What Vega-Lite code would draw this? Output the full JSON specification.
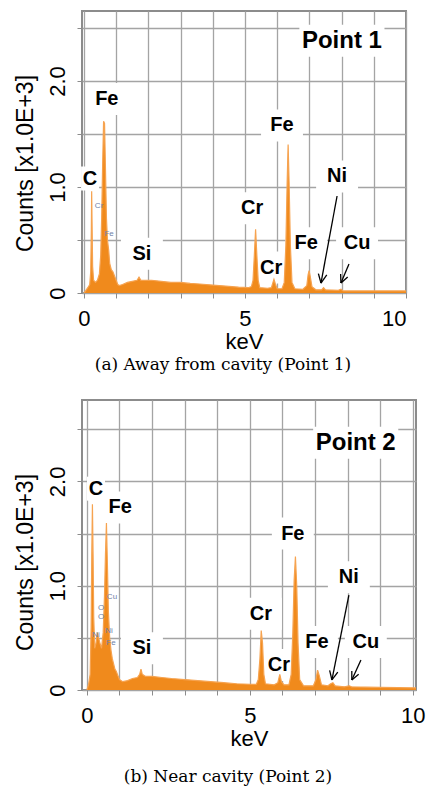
{
  "$schema": "https://vega.github.io/schema/vega-lite/v6.json",
  "background": "white",
  "padding": {"left": 13, "top": 10, "right": 2, "bottom": 2},
  "spacing": 25,
  "config": {
    "view": {"stroke": "#8c8c8c", "strokeWidth": 2},
    "font": "Liberation Sans",
    "axis": {
      "labelFont": "Liberation Sans", "titleFont": "Liberation Sans",
      "labelFontSize": 22, "titleFontSize": 22, "titleFontWeight": "normal",
      "labelColor": "black", "titleColor": "black",
      "gridColor": "#a4a4a4", "gridWidth": 1.3,
      "tickColor": "#8c8c8c", "tickSize": 5, "domain": false
    },
    "axisX": {"labelPadding": 10, "titlePadding": 2},
    "axisY": {"labelAngle": -90, "labelAlign": "center", "labelBaseline": "bottom", "labelPadding": 8, "titlePadding": 9, "titleFontSize": 23},
    "title": {"font": "DejaVu Serif", "fontSize": 17, "fontWeight": "normal", "color": "black", "orient": "bottom", "anchor": "middle", "frame": "group", "dx": -21}
  },
  "datasets": {
    "spec1": [
      {"k":0,"c":0},{"k":0.05,"c":0.02},{"k":0.12,"c":0.05},{"k":0.18,"c":0.08},{"k":0.21,"c":0.2},{"k":0.23,"c":0.6},{"k":0.24,"c":0.96},{"k":0.255,"c":0.6},{"k":0.27,"c":0.25},{"k":0.3,"c":0.12},{"k":0.36,"c":0.1},{"k":0.42,"c":0.12},{"k":0.48,"c":0.18},{"k":0.52,"c":0.35},{"k":0.55,"c":0.7},{"k":0.58,"c":1.2},{"k":0.61,"c":1.62},{"k":0.64,"c":1.6},{"k":0.67,"c":1.15},{"k":0.7,"c":0.7},{"k":0.73,"c":0.5},{"k":0.77,"c":0.4},{"k":0.8,"c":0.28},{"k":0.85,"c":0.22},{"k":0.9,"c":0.2},{"k":0.95,"c":0.16},{"k":1.0,"c":0.12},{"k":1.05,"c":0.08},{"k":1.1,"c":0.07},{"k":1.2,"c":0.08},{"k":1.35,"c":0.1},{"k":1.5,"c":0.11},{"k":1.65,"c":0.12},{"k":1.71,"c":0.15},{"k":1.77,"c":0.12},{"k":1.9,"c":0.12},{"k":2.1,"c":0.12},{"k":2.4,"c":0.11},{"k":2.7,"c":0.1},{"k":3.0,"c":0.1},{"k":3.3,"c":0.09},{"k":3.6,"c":0.085},{"k":4.0,"c":0.075},{"k":4.4,"c":0.065},{"k":4.8,"c":0.055},{"k":5.1,"c":0.05},{"k":5.2,"c":0.06},{"k":5.25,"c":0.12},{"k":5.29,"c":0.35},{"k":5.33,"c":0.6},{"k":5.37,"c":0.35},{"k":5.41,"c":0.12},{"k":5.46,"c":0.05},{"k":5.7,"c":0.045},{"k":5.82,"c":0.05},{"k":5.87,"c":0.1},{"k":5.9,"c":0.13},{"k":5.94,"c":0.09},{"k":6.0,"c":0.04},{"k":6.15,"c":0.04},{"k":6.22,"c":0.1},{"k":6.27,"c":0.45},{"k":6.31,"c":1.05},{"k":6.34,"c":1.4},{"k":6.37,"c":1.05},{"k":6.41,"c":0.45},{"k":6.46,"c":0.1},{"k":6.55,"c":0.04},{"k":6.8,"c":0.035},{"k":6.92,"c":0.07},{"k":6.96,"c":0.17},{"k":6.99,"c":0.21},{"k":7.03,"c":0.15},{"k":7.08,"c":0.06},{"k":7.2,"c":0.03},{"k":7.38,"c":0.03},{"k":7.44,"c":0.05},{"k":7.5,"c":0.03},{"k":7.9,"c":0.025},{"k":7.98,"c":0.035},{"k":8.05,"c":0.02},{"k":9.0,"c":0.02},{"k":10,"c":0.02}
    ],
    "spec2": [
      {"k":0,"c":0},{"k":0.05,"c":0.05},{"k":0.1,"c":0.15},{"k":0.13,"c":0.6},{"k":0.15,"c":1.3},{"k":0.17,"c":1.78},{"k":0.19,"c":1.3},{"k":0.21,"c":0.7},{"k":0.24,"c":0.4},{"k":0.28,"c":0.45},{"k":0.32,"c":0.55},{"k":0.36,"c":0.5},{"k":0.4,"c":0.45},{"k":0.45,"c":0.4},{"k":0.5,"c":0.55},{"k":0.54,"c":0.9},{"k":0.57,"c":1.3},{"k":0.6,"c":1.6},{"k":0.63,"c":1.2},{"k":0.66,"c":0.75},{"k":0.7,"c":0.5},{"k":0.74,"c":0.38},{"k":0.78,"c":0.3},{"k":0.82,"c":0.25},{"k":0.86,"c":0.2},{"k":0.9,"c":0.18},{"k":0.95,"c":0.14},{"k":1.0,"c":0.1},{"k":1.1,"c":0.08},{"k":1.25,"c":0.09},{"k":1.4,"c":0.11},{"k":1.55,"c":0.12},{"k":1.62,"c":0.15},{"k":1.66,"c":0.2},{"k":1.7,"c":0.15},{"k":1.8,"c":0.13},{"k":2.0,"c":0.13},{"k":2.3,"c":0.12},{"k":2.6,"c":0.11},{"k":3.0,"c":0.1},{"k":3.4,"c":0.09},{"k":3.8,"c":0.08},{"k":4.2,"c":0.07},{"k":4.6,"c":0.06},{"k":5.0,"c":0.055},{"k":5.2,"c":0.055},{"k":5.26,"c":0.1},{"k":5.31,"c":0.3},{"k":5.35,"c":0.57},{"k":5.39,"c":0.45},{"k":5.43,"c":0.15},{"k":5.48,"c":0.06},{"k":5.75,"c":0.05},{"k":5.86,"c":0.07},{"k":5.92,"c":0.15},{"k":5.97,"c":0.08},{"k":6.05,"c":0.05},{"k":6.2,"c":0.05},{"k":6.27,"c":0.15},{"k":6.32,"c":0.55},{"k":6.36,"c":1.05},{"k":6.4,"c":1.28},{"k":6.44,"c":1.0},{"k":6.48,"c":0.45},{"k":6.53,"c":0.1},{"k":6.65,"c":0.04},{"k":6.95,"c":0.04},{"k":7.03,"c":0.1},{"k":7.08,"c":0.19},{"k":7.13,"c":0.14},{"k":7.2,"c":0.05},{"k":7.4,"c":0.04},{"k":7.48,"c":0.06},{"k":7.55,"c":0.07},{"k":7.62,"c":0.04},{"k":7.9,"c":0.03},{"k":8.05,"c":0.04},{"k":8.12,"c":0.03},{"k":9.0,"c":0.025},{"k":10.1,"c":0.02}
    ],
    "lab1": [
      {"label":"Point 1","k":8.01,"c":2.38},
      {"label":"Fe","k":0.71,"c":1.83},
      {"label":"C","k":0.19,"c":1.08},
      {"label":"Si","k":1.8,"c":0.37},
      {"label":"Cr","k":5.22,"c":0.8},
      {"label":"Cr","k":5.81,"c":0.24},
      {"label":"Fe","k":6.15,"c":1.58},
      {"label":"Fe","k":6.9,"c":0.47},
      {"label":"Ni","k":7.86,"c":1.1},
      {"label":"Cu","k":8.48,"c":0.47}
    ],
    "lab2": [
      {"label":"Point 2","k":8.25,"c":2.37},
      {"label":"C","k":0.28,"c":1.93},
      {"label":"Fe","k":1.02,"c":1.75},
      {"label":"Si","k":1.69,"c":0.4},
      {"label":"Cr","k":5.34,"c":0.73},
      {"label":"Cr","k":5.89,"c":0.24},
      {"label":"Fe","k":6.32,"c":1.5},
      {"label":"Fe","k":7.06,"c":0.46},
      {"label":"Ni","k":8.04,"c":1.08},
      {"label":"Cu","k":8.56,"c":0.46}
    ],
    "tiny1": [
      {"label":"Cr","k":0.47,"c":0.82},
      {"label":"Fe","k":0.78,"c":0.56}
    ],
    "tiny2": [
      {"label":"Cu","k":0.77,"c":0.89},
      {"label":"O","k":0.44,"c":0.79},
      {"label":"O","k":0.44,"c":0.7},
      {"label":"Ni","k":0.28,"c":0.53},
      {"label":"Ni","k":0.68,"c":0.57},
      {"label":"Fe","k":0.74,"c":0.45}
    ],
    "arr1": [
      {"k":7.86,"c":0.915,"k2":7.36,"c2":0.094},
      {"k":7.54,"c":0.171,"k2":7.36,"c2":0.094},
      {"k":7.28,"c":0.183,"k2":7.36,"c2":0.094},
      {"k":8.23,"c":0.274,"k2":7.98,"c2":0.094},
      {"k":8.19,"c":0.151,"k2":7.98,"c2":0.094},
      {"k":7.97,"c":0.179,"k2":7.98,"c2":0.094}
    ],
    "arr2": [
      {"k":8.04,"c":0.91,"k2":7.52,"c2":0.096},
      {"k":7.7,"c":0.172,"k2":7.52,"c2":0.096},
      {"k":7.45,"c":0.189,"k2":7.52,"c2":0.096},
      {"k":8.41,"c":0.287,"k2":8.13,"c2":0.096},
      {"k":8.34,"c":0.152,"k2":8.13,"c2":0.096},
      {"k":8.13,"c":0.182,"k2":8.13,"c2":0.096}
    ]
  },
  "vconcat": [
    {
      "width": 324, "height": 282,
      "title": {"text": "(a) Away from cavity (Point 1)", "offset": 5},
      "encoding": {
        "x": {"field": "k", "type": "quantitative", "scale": {"domain": [-0.06, 10], "nice": false, "zero": false},
              "axis": {"values": [0,1,2,3,4,5,6,7,8,9,10], "labelExpr": "datum.value % 5 === 0 ? datum.label : ''", "title": "keV"}},
        "y": {"field": "c", "type": "quantitative", "scale": {"domain": [0, 2.66], "nice": false},
              "axis": {"values": [0,0.5,1,1.5,2,2.5], "labelExpr": "datum.value === 0 ? '0' : (datum.value % 1 === 0 ? format(datum.value, '.1f') : '')", "title": "Counts [x1.0E+3]", "titleY": 152}}
      },
      "layer": [
        {
          "data": {"name": "lab1"},
          "mark": {"type": "point", "filled": true, "color": "white", "opacity": 1, "strokeWidth": 0},
          "encoding": {
            "shape": {"condition": [{"test": "indexof(datum.label,'Point')===0", "value": "M-2.66,-1H2.66V1H-2.66Z"}, {"test": "datum.label==='C'", "value": "M-0.75,-1H0.75V1H-0.75Z"}], "value": "M-1.31,-1H1.31V1H-1.31Z"},
            "size": {"condition": [{"test": "indexof(datum.label,'Point')===0", "value": 1024}, {"test": "datum.label==='C'", "value": 576}], "value": 1024}
          }
        },
        {
          "data": {"name": "spec1"},
          "mark": {"type": "area", "color": "#F08A1C", "opacity": 1, "clip": true, "line": {"color": "#F6A350", "strokeWidth": 1.2}}
        },
        {
          "data": {"name": "tiny1"},
          "mark": {"type": "text", "fontSize": 8, "color": "#6f7fa8", "align": "center", "baseline": "middle"},
          "encoding": {"text": {"field": "label"}}
        },
        {
          "data": {"name": "lab1"},
          "mark": {"type": "text", "fontWeight": "bold", "color": "black", "align": "center", "baseline": "middle", "font": "Liberation Sans"},
          "encoding": {
            "text": {"field": "label"},
            "size": {"condition": {"test": "indexof(datum.label,'Point')===0", "value": 24}, "value": 20}
          }
        },
        {
          "data": {"name": "arr1"},
          "mark": {"type": "rule", "color": "black", "strokeWidth": 1.3},
          "encoding": {"x2": {"field": "k2"}, "y2": {"field": "c2"}}
        }
      ]
    },
    {
      "width": 334, "height": 290,
      "title": {"text": "(b) Near cavity (Point 2)", "offset": 20},
      "encoding": {
        "x": {"field": "k", "type": "quantitative", "scale": {"domain": [-0.15, 10.1], "nice": false, "zero": false},
              "axis": {"values": [0,1,2,3,4,5,6,7,8,9,10], "labelExpr": "datum.value % 5 === 0 ? datum.label : ''", "title": "keV"}},
        "y": {"field": "c", "type": "quantitative", "scale": {"domain": [0, 2.78], "nice": false},
              "axis": {"values": [0,0.5,1,1.5,2,2.5], "labelExpr": "datum.value === 0 ? '0' : (datum.value % 1 === 0 ? format(datum.value, '.1f') : '')", "title": "Counts [x1.0E+3]", "titleY": 162}}
      },
      "layer": [
        {
          "data": {"name": "lab2"},
          "mark": {"type": "point", "filled": true, "color": "white", "opacity": 1, "strokeWidth": 0},
          "encoding": {
            "shape": {"condition": [{"test": "indexof(datum.label,'Point')===0", "value": "M-2.66,-1H2.66V1H-2.66Z"}, {"test": "datum.label==='C'", "value": "M-0.75,-1H0.75V1H-0.75Z"}], "value": "M-1.31,-1H1.31V1H-1.31Z"},
            "size": {"condition": [{"test": "indexof(datum.label,'Point')===0", "value": 1024}, {"test": "datum.label==='C'", "value": 576}], "value": 1024}
          }
        },
        {
          "data": {"name": "spec2"},
          "mark": {"type": "area", "color": "#F08A1C", "opacity": 1, "clip": true, "line": {"color": "#F6A350", "strokeWidth": 1.2}}
        },
        {
          "data": {"name": "tiny2"},
          "mark": {"type": "text", "fontSize": 8, "color": "#6f7fa8", "align": "center", "baseline": "middle"},
          "encoding": {"text": {"field": "label"}}
        },
        {
          "data": {"name": "lab2"},
          "mark": {"type": "text", "fontWeight": "bold", "color": "black", "align": "center", "baseline": "middle", "font": "Liberation Sans"},
          "encoding": {
            "text": {"field": "label"},
            "size": {"condition": {"test": "indexof(datum.label,'Point')===0", "value": 24}, "value": 20}
          }
        },
        {
          "data": {"name": "arr2"},
          "mark": {"type": "rule", "color": "black", "strokeWidth": 1.3},
          "encoding": {"x2": {"field": "k2"}, "y2": {"field": "c2"}}
        }
      ]
    }
  ]
}
